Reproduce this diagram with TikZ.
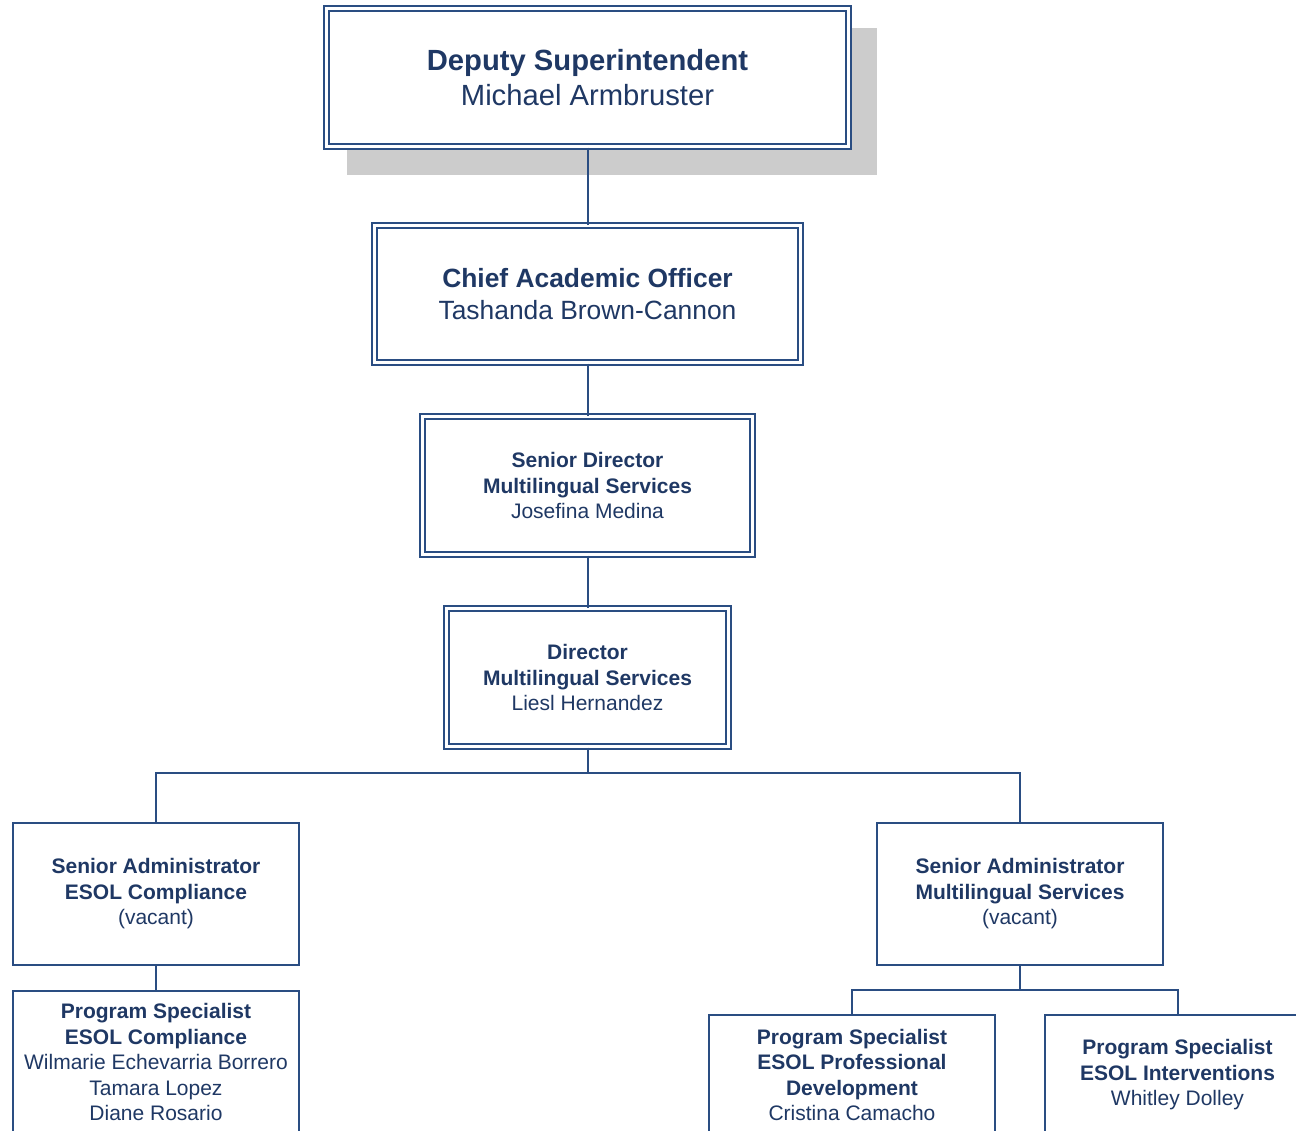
\documentclass[tikz,border=0pt]{standalone}
\usepackage{fontspec}
\setmainfont{Liberation Sans}
\usetikzlibrary{positioning}
\definecolor{chartnavy}{RGB}{31,56,100}
\definecolor{chartline}{RGB}{42,77,130}
\definecolor{chartshadow}{RGB}{204,204,204}
\newcommand{\bigfont}{\fontsize{14.6}{17.5}\selectfont}
\newcommand{\midfont}{\fontsize{13.2}{16}\selectfont}
\newcommand{\smallfont}{\fontsize{10.5}{12.75}\selectfont}
\tikzset{
  post/.style={draw=chartline, line width=1pt, fill=white, text=chartnavy,
    align=center, inner sep=0pt, font=\smallfont},
  toppost/.style={post, double=white, double distance=1.5pt},
  link/.style={draw=chartline, line width=1pt},
}

\begin{document}
\begin{tikzpicture}[x=0.5pt, y=-0.5pt]
			%%%%% START %%%%%
			\useasboundingbox (0, 0) rectangle (1296, 1130);
			\clip (0, 0) rectangle (1296, 1130);
			
			\fill[chartshadow] (347, 28) rectangle (877, 175);
			
			\node[toppost, font=\bigfont, minimum width=261pt, minimum height=69pt] (deputy) at (587.5, 77.5)
				{\textbf{Deputy Superintendent}\\Michael Armbruster};
			\node[toppost, font=\midfont, minimum width=213pt, minimum height=68.5pt] (chief) at (587.5, 294)
				{\textbf{Chief Academic Officer}\\Tashanda Brown-Cannon};
			\node[toppost, minimum width=165pt, minimum height=69pt] (srdir) at (587.5, 485.5)
				{\textbf{Senior Director}\\\textbf{Multilingual Services}\\Josefina Medina};
			\node[toppost, minimum width=141pt, minimum height=69pt] (dir) at (587.5, 677.5)
				{\textbf{Director}\\\textbf{Multilingual Services}\\Liesl Hernandez};
			
			\node[post, minimum width=143pt, minimum height=71pt] (saesol) at (156, 894)
				{\textbf{Senior Administrator}\\\textbf{ESOL Compliance}\\(vacant)};
			\node[post, minimum width=143pt, minimum height=71pt] (saml) at (1020, 894)
				{\textbf{Senior Administrator}\\\textbf{Multilingual Services}\\(vacant)};
			
			\node[post, minimum width=143pt, minimum height=71pt] (psesol) at (156, 1062)
				{\textbf{Program Specialist}\\\textbf{ESOL Compliance}\\Wilmarie Echevarria Borrero\\Tamara Lopez\\Diane Rosario};
			\node[post, minimum width=143pt, minimum height=60pt] (pspd) at (852, 1075)
				{\textbf{Program Specialist}\\\textbf{ESOL Professional}\\\textbf{Development}\\Cristina Camacho};
			\node[post, minimum width=132.5pt, minimum height=60pt] (psint) at (1177.5, 1075)
				{\textbf{Program Specialist}\\\textbf{ESOL Interventions}\\Whitley Dolley};
			
			\coordinate (split) at (587.5, 773);
			\coordinate (subsplit) at (1020, 990);
			
			\draw[link] (deputy) -- (chief);
			\draw[link] (chief) -- (srdir);
			\draw[link] (srdir) -- (dir);
			\draw[link] (dir) -- (split);
			\draw[link] (split) -| (saesol);
			\draw[link] (split) -| (saml);
			\draw[link] (saesol) -- (psesol);
			\draw[link] (saml) -- (subsplit);
			\draw[link] (subsplit) -| (pspd);
			\draw[link] (subsplit) -| (psint);
			
			%%%%% END %%%%%
\end{tikzpicture}
\end{document}
